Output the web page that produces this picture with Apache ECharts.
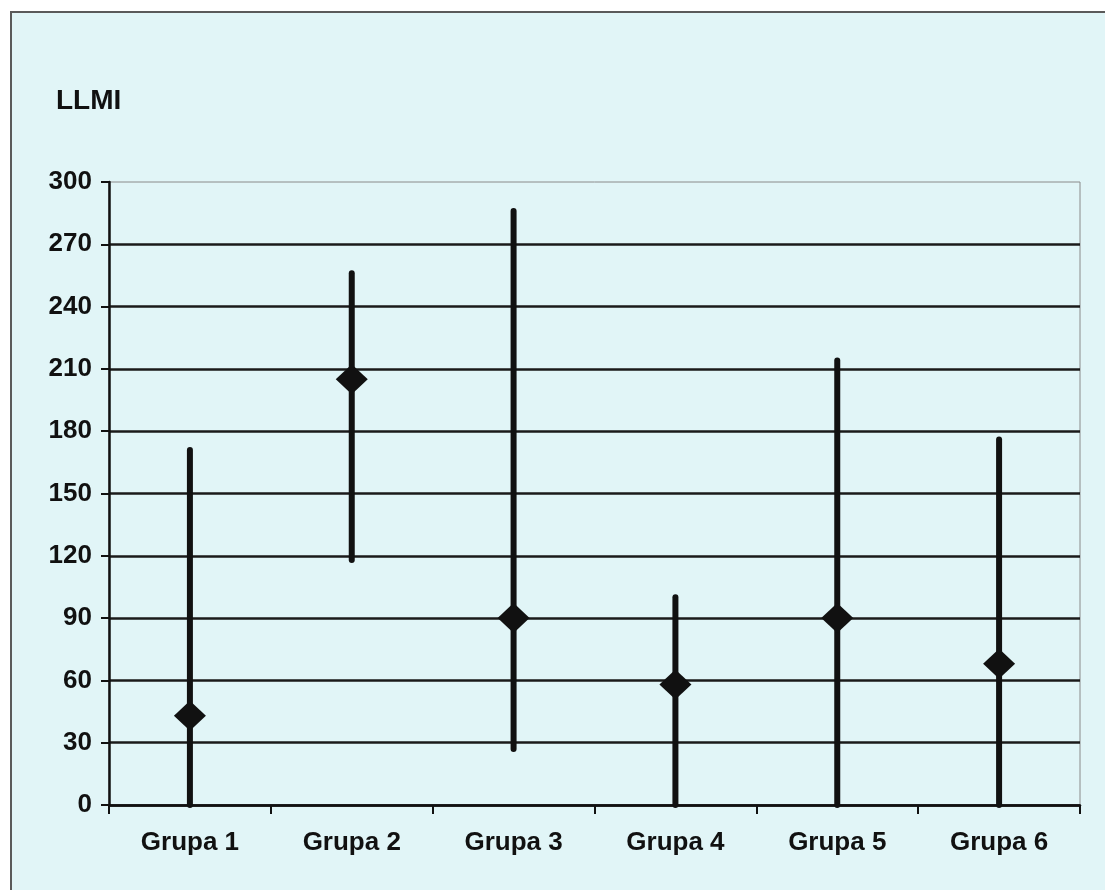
<!DOCTYPE html>
<html>
<head>
<meta charset="utf-8">
<title>LLMI</title>
<script src="https://cdn.jsdelivr.net/npm/echarts@6/dist/echarts.min.js"></script>
<style>
  html, body { margin: 0; padding: 0; background: #ffffff; }
  #main { width: 1105px; height: 890px; }
</style>
</head>
<body>
<div id="main"></div>
<script>
// groups on the x axis
const groups = ["Grupa 1", "Grupa 2", "Grupa 3", "Grupa 4", "Grupa 5", "Grupa 6"];
// mean value (diamond) per group
const means = [43, 205, 90, 58, 90, 68];
// lower / upper end of the vertical bar
const lows = [0, 118, 27, 0, 0, 0];
const highs = [171, 256, 286, 100, 214, 176];
// y axis ticks
const yTicks = [0, 30, 60, 90, 120, 150, 180, 210, 240, 270, 300];

const chart = echarts.init(document.getElementById("main"));

const labelFont = {
  fontFamily: "'Liberation Sans', Arial, sans-serif",
  fontWeight: "bold",
  color: "#111",
};

const option = {
  backgroundColor: "#ffffff",
  animation: false,
  graphic: [
    {
      type: "rect",
      z: -10,
      shape: { x: 11, y: 12, width: 1200, height: 1000 },
      style: { fill: "#e1f5f7", stroke: "#5a5a5a", lineWidth: 2 },
    },
  ],
  title: {
    text: "LLMI",
    left: 56,
    top: 87,
    padding: 0,
    textStyle: { ...labelFont, fontSize: 28 },
  },
  grid: {
    left: 109,
    right: 25,
    top: 182,
    bottom: 85,
    show: true,
    borderColor: "#8a8a8a",
    borderWidth: 1,
  },
  xAxis: {
    type: "category",
    data: groups,
    boundaryGap: true,
    axisLine: { lineStyle: { color: "#111", width: 2.5 } },
    axisTick: { show: true, length: 9, inside: false, lineStyle: { color: "#111", width: 2 } },
    axisLabel: { ...labelFont, fontSize: 26, margin: 25 },
    splitLine: { show: false },
  },
  yAxis: {
    type: "value",
    min: yTicks[0],
    max: yTicks[yTicks.length - 1],
    interval: 30,
    axisLine: { show: true, lineStyle: { color: "#111", width: 2.5 } },
    axisTick: { show: true, length: 8, lineStyle: { color: "#111", width: 2 } },
    axisLabel: { ...labelFont, fontSize: 26, margin: 17 },
    splitLine: {
      show: true,
      showMaxLine: false,
      lineStyle: { color: "#1a1a1a", width: 2.5 },
    },
  },
  series: [
    {
      // vertical range bars
      type: "custom",
      z: 3,
      data: groups.map((g, i) => [i, lows[i], highs[i]]),
      encode: { x: 0, y: [1, 2] },
      renderItem: function (params, api) {
        const bottom = api.coord([api.value(0), api.value(1)]);
        const top = api.coord([api.value(0), api.value(2)]);
        return {
          type: "line",
          shape: { x1: bottom[0], y1: bottom[1], x2: top[0], y2: top[1] },
          style: { stroke: "#111", lineWidth: 6, lineCap: "round" },
        };
      },
    },
    {
      // mean markers
      type: "scatter",
      z: 4,
      data: means,
      symbol: "diamond",
      symbolSize: [32, 30],
      itemStyle: { color: "#111", opacity: 1 },
    },
  ],
};

chart.setOption(option);
</script>
</body>
</html>
